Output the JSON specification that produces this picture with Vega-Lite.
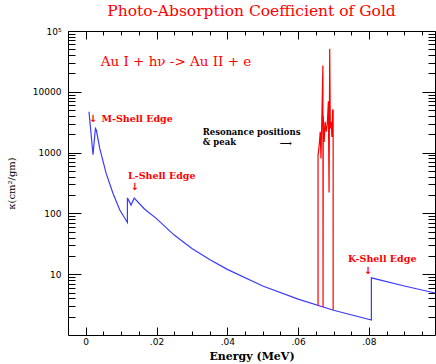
{
  "$schema": "https://vega.github.io/schema/vega-lite/v6.json",
  "width": 367,
  "height": 304,
  "autosize": {"type": "none"},
  "padding": {"left": 68, "top": 31, "right": 1, "bottom": 29},
  "background": "white",
  "title": {"text": "Photo-Absorption Coefficient of Gold", "color": "#ff0000", "font": "DejaVu Serif", "fontSize": 15.5, "fontWeight": "normal", "anchor": "middle", "offset": 8},
  "config": {
    "view": {"stroke": null},
    "axis": {"domainColor": "black", "tickColor": "black", "labelColor": "black", "labelFont": "DejaVu Sans", "labelFontSize": 9, "grid": false, "labelOverlap": false, "labelBound": false, "titleColor": "black"}
  },
  "datasets": {
    "blue": [
      {"i": 1, "E": 0.00093, "k": 4700},
      {"i": 2, "E": 0.00206, "k": 920},
      {"i": 3, "E": 0.00274, "k": 2500},
      {"i": 4, "E": 0.0030, "k": 2350},
      {"i": 5, "E": 0.0040, "k": 1150},
      {"i": 6, "E": 0.0058, "k": 450},
      {"i": 7, "E": 0.0077, "k": 215},
      {"i": 8, "E": 0.0096, "k": 115},
      {"i": 9, "E": 0.01178, "k": 71},
      {"i": 10, "E": 0.01178, "k": 180},
      {"i": 11, "E": 0.0128, "k": 137},
      {"i": 12, "E": 0.0137, "k": 178},
      {"i": 13, "E": 0.0166, "k": 118},
      {"i": 14, "E": 0.02, "k": 82},
      {"i": 15, "E": 0.025, "k": 44},
      {"i": 16, "E": 0.03, "k": 26.5},
      {"i": 17, "E": 0.035, "k": 17.5},
      {"i": 18, "E": 0.04, "k": 12},
      {"i": 19, "E": 0.05, "k": 6.4},
      {"i": 20, "E": 0.06, "k": 3.9},
      {"i": 21, "E": 0.07, "k": 2.55},
      {"i": 22, "E": 0.0807, "k": 1.76},
      {"i": 23, "E": 0.0807, "k": 8.7},
      {"i": 24, "E": 0.09, "k": 6.4},
      {"i": 25, "E": 0.0987, "k": 4.9}
    ],
    "red": [
      {"i": 1, "E": 0.06563, "k": 3.05},
      {"i": 2, "E": 0.06563, "k": 900},
      {"i": 3, "E": 0.06600, "k": 1400},
      {"i": 4, "E": 0.06625, "k": 2200},
      {"i": 5, "E": 0.06645, "k": 800},
      {"i": 6, "E": 0.06670, "k": 3500},
      {"i": 7, "E": 0.06700, "k": 27000},
      {"i": 8, "E": 0.06705, "k": 2.9},
      {"i": 9, "E": 0.06710, "k": 4000},
      {"i": 10, "E": 0.06735, "k": 1500},
      {"i": 11, "E": 0.06765, "k": 3200},
      {"i": 12, "E": 0.06795, "k": 2200},
      {"i": 13, "E": 0.06825, "k": 3000},
      {"i": 14, "E": 0.06855, "k": 7000},
      {"i": 15, "E": 0.06874, "k": 220},
      {"i": 16, "E": 0.06893, "k": 51000},
      {"i": 17, "E": 0.06910, "k": 2500},
      {"i": 18, "E": 0.06935, "k": 3200},
      {"i": 19, "E": 0.06955, "k": 1800},
      {"i": 20, "E": 0.06975, "k": 5000},
      {"i": 21, "E": 0.06990, "k": 5000},
      {"i": 22, "E": 0.06990, "k": 2.57}
    ],
    "reaction": [{"E": 0.00424, "k": 30700, "t": "Au I + hν -> Au II + e"}],
    "edges": [
      {"E": 0.00444, "k": 3530, "t": "M-Shell Edge"},
      {"E": 0.01195, "k": 415, "t": "L-Shell Edge"},
      {"E": 0.0741, "k": 17.5, "t": "K-Shell Edge"}
    ],
    "arrows": [
      {"E": 0.00206, "k": 3530, "t": "↓"},
      {"E": 0.01384, "k": 270, "t": "↓"},
      {"E": 0.07975, "k": 11.5, "t": "↓"}
    ],
    "reso": [
      {"E": 0.03305, "k": 2150, "t": "Resonance positions"},
      {"E": 0.03305, "k": 1500, "t": "& peak"},
      {"E": 0.0548, "k": 1440, "t": "⟶"}
    ]
  },
  "resolve": {"axis": {"x": "independent", "y": "independent"}},
  "layer": [
    {
      "data": {"name": "blue"},
      "mark": {"type": "line", "color": "#3a3aff", "strokeWidth": 1.2},
      "encoding": {
        "x": {"field": "E", "type": "quantitative",
          "scale": {"domain": [-0.005, 0.09867], "nice": false, "zero": false},
          "axis": {"orient": "bottom", "values": [0,0.005,0.01,0.015,0.02,0.025,0.03,0.035,0.04,0.045,0.05,0.055,0.06,0.065,0.07,0.075,0.08,0.085,0.09,0.095],
            "labelExpr": "abs(datum.value*50-round(datum.value*50))<0.001 ? (datum.value==0 ? '0' : replace(format(datum.value,'.2f'),'0.','.')) : ''",
            "tickSize": {"condition": {"test": "abs(datum.value*50-round(datum.value*50))<0.001", "value": -8}, "value": -4},
            "labelPadding": 10,
            "title": "Energy (MeV)", "titleFont": "DejaVu Serif", "titleFontWeight": "bold", "titleFontSize": 11, "titlePadding": 0}
        },
        "y": {"field": "k", "type": "quantitative",
          "scale": {"type": "log", "domain": [1, 100000], "nice": false},
          "axis": {"orient": "left", "values": [2,3,4,5,6,7,8,9,10,20,30,40,50,60,70,80,90,100,200,300,400,500,600,700,800,900,1000,2000,3000,4000,5000,6000,7000,8000,9000,10000,20000,30000,40000,50000,60000,70000,80000,90000,100000],
            "labelExpr": "datum.value==100000 ? '10⁵' : (abs(log(datum.value)/LN10-round(log(datum.value)/LN10))<0.000001 ? format(datum.value,'d') : '')",
            "tickSize": {"condition": {"test": "abs(log(datum.value)/LN10-round(log(datum.value)/LN10))<0.000001", "value": -13}, "value": -7},
            "labelPadding": 20,
            "title": "κ(cm²/gm)", "titleFont": "DejaVu Serif", "titleFontWeight": "normal", "titleFontSize": 10, "titlePadding": 16}
        },
        "order": {"field": "i"}
      }
    },
    {
      "data": {"name": "red"},
      "mark": {"type": "line", "color": "#ff0000", "strokeWidth": 1.2},
      "encoding": {
        "x": {"field": "E", "type": "quantitative",
          "axis": {"orient": "top", "values": [0,0.005,0.01,0.015,0.02,0.025,0.03,0.035,0.04,0.045,0.05,0.055,0.06,0.065,0.07,0.075,0.08,0.085,0.09,0.095],
            "labels": false, "title": null,
            "tickSize": {"condition": {"test": "abs(datum.value*50-round(datum.value*50))<0.001", "value": -8}, "value": -4}}
        },
        "y": {"field": "k", "type": "quantitative",
          "axis": {"orient": "right", "values": [2,3,4,5,6,7,8,9,10,20,30,40,50,60,70,80,90,100,200,300,400,500,600,700,800,900,1000,2000,3000,4000,5000,6000,7000,8000,9000,10000,20000,30000,40000,50000,60000,70000,80000,90000,100000],
            "labels": false, "title": null,
            "tickSize": {"condition": {"test": "abs(log(datum.value)/LN10-round(log(datum.value)/LN10))<0.000001", "value": -13}, "value": -7}}
        },
        "order": {"field": "i"}
      }
    },
    {
      "data": {"name": "reaction"},
      "mark": {"type": "text", "color": "#ff0000", "font": "DejaVu Serif", "fontSize": 13.5, "align": "left", "baseline": "middle"},
      "encoding": {
        "x": {"field": "E", "type": "quantitative", "axis": null},
        "y": {"field": "k", "type": "quantitative", "axis": null},
        "text": {"field": "t"}
      }
    },
    {
      "data": {"name": "edges"},
      "mark": {"type": "text", "color": "#ff0000", "font": "DejaVu Serif", "fontSize": 9.5, "fontWeight": "bold", "align": "left", "baseline": "middle"},
      "encoding": {
        "x": {"field": "E", "type": "quantitative", "axis": null},
        "y": {"field": "k", "type": "quantitative", "axis": null},
        "text": {"field": "t"}
      }
    },
    {
      "data": {"name": "arrows"},
      "mark": {"type": "text", "color": "#ff0000", "font": "DejaVu Sans", "fontSize": 10, "fontWeight": "bold", "align": "center", "baseline": "middle"},
      "encoding": {
        "x": {"field": "E", "type": "quantitative", "axis": null},
        "y": {"field": "k", "type": "quantitative", "axis": null},
        "text": {"field": "t"}
      }
    },
    {
      "data": {"name": "reso"},
      "mark": {"type": "text", "color": "black", "font": "DejaVu Serif", "fontSize": 8.5, "fontWeight": "bold", "align": "left", "baseline": "middle"},
      "encoding": {
        "x": {"field": "E", "type": "quantitative", "axis": null},
        "y": {"field": "k", "type": "quantitative", "axis": null},
        "text": {"field": "t"}
      }
    }
  ]
}
